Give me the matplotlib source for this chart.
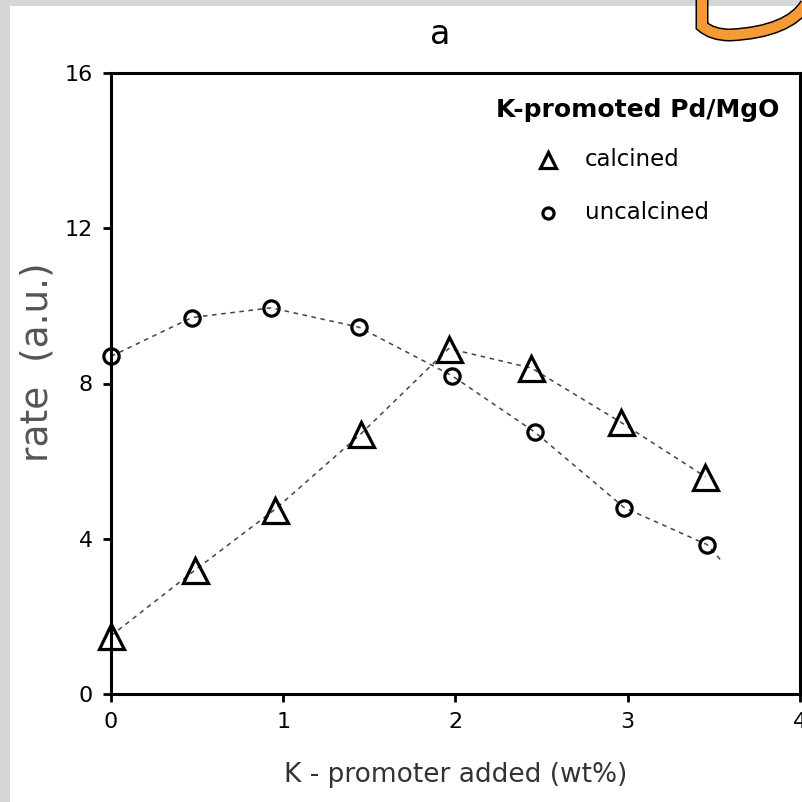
import matplotlib
matplotlib.use('Agg')
import matplotlib.pyplot as plt
from matplotlib.patches import Rectangle
from matplotlib.path import Path
from matplotlib.patches import PathPatch

# K loading (wt%) and rates
k_calc = [0.0, 0.49, 0.95, 1.45, 1.96, 2.44, 2.96, 3.45]
rate_calc = [1.5, 3.2, 4.75, 6.7, 8.9, 8.4, 7.0, 5.6]
k_uncalc = [0.0, 0.47, 0.93, 1.44, 1.98, 2.46, 2.98, 3.46]
rate_uncalc = [8.7, 9.7, 9.95, 9.45, 8.2, 6.75, 4.8, 3.85]

x_ticks = [0, 1, 2, 3, 4]
y_ticks = [0, 4, 8, 12, 16]

W, H = 803, 802
fig = plt.figure(figsize=(W / 100, H / 100), dpi=100)
fig.patch.set_facecolor('#d6d6d6')

# white slide area
fig.patches.append(Rectangle((10 / W, 0), 1, 1 - 6 / H, transform=fig.transFigure,
                             facecolor='white', edgecolor='none', zorder=-5))

# orange decoration in the top right corner
verts = [(702 / W, 1.0), (702 / W, 1 - 26 / H), (712 / W, 1 - 35 / H), (730 / W, 1 - 35 / H),
         (770 / W, 1 - 33 / H), (795 / W, 1 - 22 / H), (806 / W, 1 - 4 / H)]
codes = [Path.MOVETO, Path.LINETO, Path.CURVE3, Path.CURVE3, Path.CURVE4, Path.CURVE4, Path.CURVE4]
for lw, col in [(13, 'black'), (10, '#f59a35')]:
    fig.patches.append(PathPatch(Path(verts, codes), transform=fig.transFigure, fill=False,
                                 edgecolor=col, lw=lw * 0.72, capstyle='butt', zorder=-4))

ax = fig.add_axes([111 / W, 1 - 694 / H, (800 - 111) / W, (694 - 73) / H])
ax.set_zorder(2)
ax.set_facecolor('white')

ax.plot(k_calc, rate_calc, linestyle=(0, (3, 3)), color='#444444', lw=1.1, zorder=2)
ax.plot(k_uncalc + [3.55], rate_uncalc + [3.4], linestyle=(0, (3, 3)), color='#444444', lw=1.1, zorder=2)
ax.plot(k_calc, rate_calc, linestyle='none', marker='^', ms=18, mfc='none', mec='black',
        mew=2.3, zorder=3, clip_on=False)
ax.plot(k_uncalc, rate_uncalc, linestyle='none', marker='o', ms=11, mfc='none', mec='black',
        mew=2.3, zorder=3, clip_on=False)

ax.set_xlim(0, 4)
ax.set_ylim(0, 16)
ax.set_xticks(x_ticks)
ax.set_yticks(y_ticks)
ax.tick_params(direction='out', length=6, width=2, labelsize=16, pad=7, colors='black')
for s in ax.spines.values():
    s.set_linewidth(2.2)

ax.set_xlabel('K - promoter added (wt%)', fontsize=19, color='#333333', va='center')
ax.xaxis.set_label_coords(0.5007, -0.13)
ax.set_ylabel('rate  (a.u.)', fontsize=27, color='#555555', va='center')
ax.yaxis.set_label_coords(-0.107, 0.535)
fig.text(440 / W, 1 - 35 / H, 'a', fontsize=24, ha='center', va='center')

# legend drawn as text with marker glyphs
ax.text(0.97, 0.94, 'K-promoted Pd/MgO', transform=ax.transAxes, fontsize=18,
        fontweight='bold', ha='right', va='center')
ax.plot([0.634], [0.86], transform=ax.transAxes, marker='^', ms=12, mfc='none', mec='black',
        mew=2.3, linestyle='none', clip_on=False)
ax.plot([0.634], [0.775], transform=ax.transAxes, marker='o', ms=8, mfc='none', mec='black',
        mew=2.3, linestyle='none', clip_on=False)
ax.text(0.688, 0.86, 'calcined', transform=ax.transAxes, fontsize=16.5, ha='left', va='center')
ax.text(0.688, 0.775, 'uncalcined', transform=ax.transAxes, fontsize=16.5, ha='left', va='center')

fig.savefig('out.png', dpi=100, facecolor=fig.get_facecolor())
